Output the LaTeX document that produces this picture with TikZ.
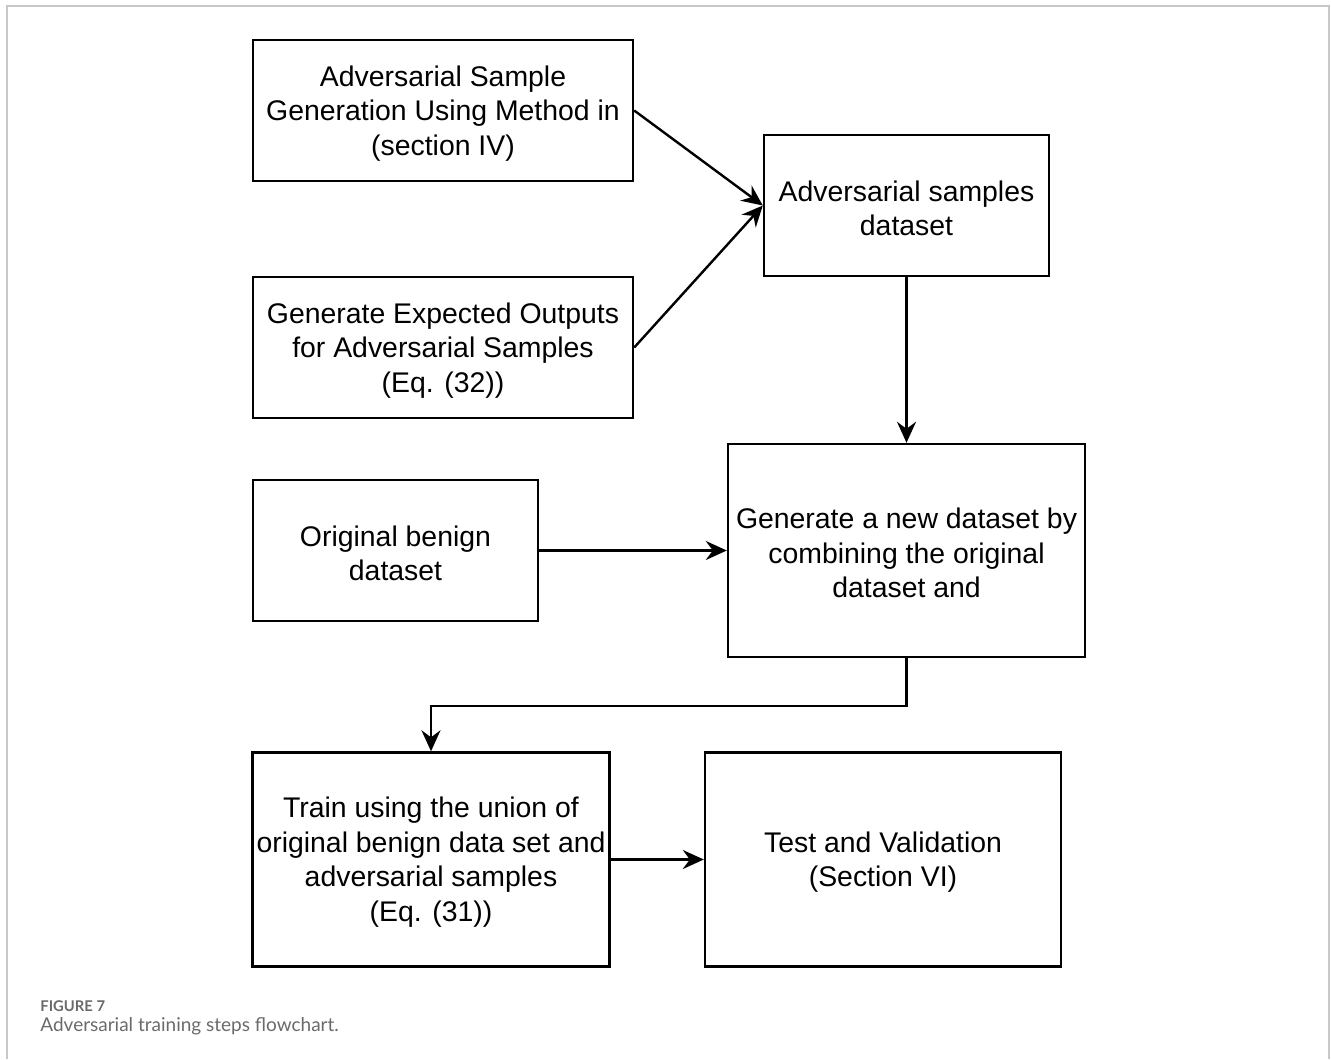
\documentclass[tikz,border=0pt]{standalone}
\usepackage{fontspec}
\setmainfont{Liberation Sans}
\newfontfamily\capfont{Lato}
\usetikzlibrary{arrows.meta}
\definecolor{framegray}{HTML}{C8C8C8}
\definecolor{capgray}{HTML}{6A6A6A}
\begin{document}
\begin{tikzpicture}[x=0.5pt,y=-0.5pt,
  box/.style={draw, line width=1.2pt, inner sep=0pt, align=center,
    font=\fontsize{14.2pt}{17.25pt}\selectfont},
  arr/.style={line width=1.2pt, -{Stealth[length=10.5pt,width=9.5pt,inset=3.5pt]}},
  frameline/.style={draw=framegray, line width=1pt}]
\useasboundingbox (0,0) rectangle (1331,1059);
\draw[frameline] (7,1059) -- (7,6) -- (1329,6) -- (1329,1059);

\node[box, minimum width=190pt, minimum height=70.5pt] (b1) at (443,110.5)
  {\rule{0pt}{13pt}Adversarial Sample\\Generation Using Method in\\(section IV)};
\node[box, minimum width=142.5pt, minimum height=70.5pt] (b2) at (906.5,205.5)
  {\rule{0pt}{13pt}Adversarial samples\\dataset};
\node[box, minimum width=190pt, minimum height=70.5pt] (b3) at (443,347.5)
  {\rule{0pt}{13pt}Generate Expected Outputs\\for Adversarial Samples\\(Eq. (32))};
\node[box, minimum width=142.5pt, minimum height=70.5pt] (b4) at (395.5,550.5)
  {\rule{0pt}{13pt}Original benign\\dataset};
\node[box, minimum width=178.5pt, minimum height=106.5pt] (b5) at (906.5,550.5)
  {\rule{0pt}{13pt}Generate a new dataset by\\combining the original\\dataset and};
\node[box, minimum width=178.5pt, minimum height=107pt] (b6) at (431,859.5)
  {\rule{0pt}{13pt}Train using the union of\\original benign data set and\\adversarial samples\\(Eq. (31))};
\node[box, minimum width=178pt, minimum height=107pt] (b7) at (883,859.5)
  {\rule{0pt}{13pt}Test and Validation\\(Section VI)};

\draw[arr] (b1.east) -- (b2.west);
\draw[arr] (b3.east) -- (b2.west);
\draw[arr] (b2.south) -- (b5.north);
\draw[arr] (b4.east) -- (b5.west);
\draw[arr] (b5.south) -- ++(0,48) -| (b6.north);
\draw[arr] (b6.east) -- (b7.west);

\node[anchor=west, inner sep=0pt, text=capgray, font=\capfont\bfseries\fontsize{7.4pt}{9pt}\selectfont] (cap1) at (40,1006) {FIGURE 7};
\node[anchor=west, inner sep=0pt, text=capgray, font=\capfont\fontsize{9.5pt}{11pt}\selectfont] (cap2) at (40,1026) {Adversarial training steps flowchart.};
\end{tikzpicture}
\end{document}
